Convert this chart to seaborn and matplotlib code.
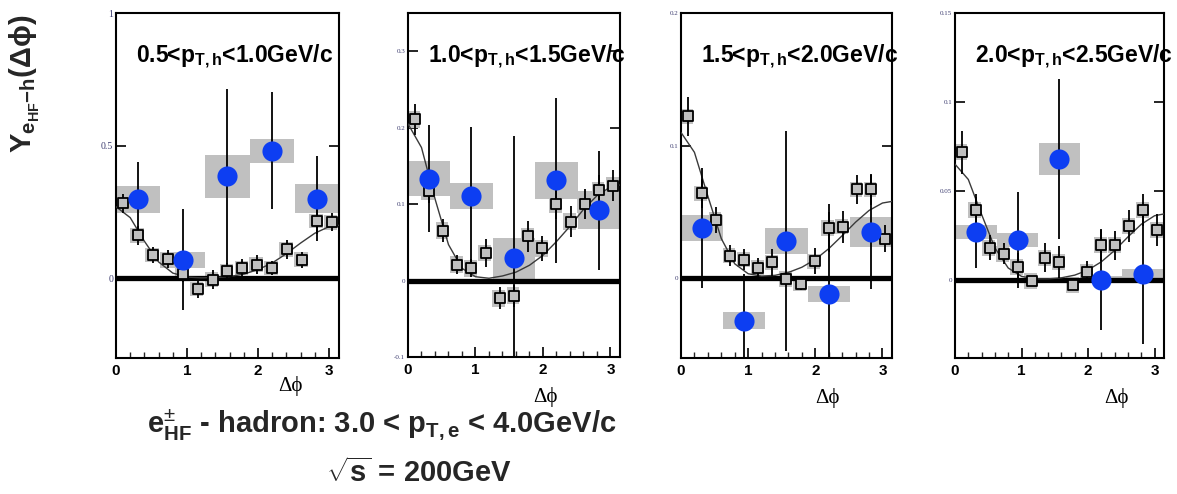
import numpy as np
import pandas as pd
import matplotlib
matplotlib.use("Agg")
import matplotlib.pyplot as plt
from matplotlib.ticker import MultipleLocator, FixedLocator
import seaborn as sns

# ---------------- data ----------------
panel_titles = [r"0.5<p$_{\mathbf{T,h}}$<1.0GeV/c",
                r"1.0<p$_{\mathbf{T,h}}$<1.5GeV/c",
                r"1.5<p$_{\mathbf{T,h}}$<2.0GeV/c",
                r"2.0<p$_{\mathbf{T,h}}$<2.5GeV/c"]

sq_dphi = [0.10, 0.31, 0.52, 0.73, 0.94, 1.15, 1.36, 1.57, 1.78, 1.99, 2.20, 2.41, 2.62, 2.83, 3.04]
circ_dphi = [0.31, 0.94, 1.57, 2.20, 2.83]
fit_dphi = [0.0, 0.2, 0.4, 0.6, 0.8, 1.0, 1.2, 1.4, 1.6, 1.8, 2.0, 2.2, 2.4, 2.6, 2.8, 3.0, 3.14]

# panel 1: 0.5-1.0
sq_y1 = [0.283, 0.162, 0.088, 0.073, 0.018, -0.040, -0.005, 0.028, 0.039, 0.052, 0.039, 0.109, 0.071, 0.216, 0.212]
sq_err1 = [0.035, 0.035, 0.03, 0.033, 0.03, 0.033, 0.035, 0.03, 0.035, 0.035, 0.028, 0.035, 0.03, 0.05, 0.035]
circ_y1 = [0.298, 0.071, 0.384, 0.481, 0.300]
circ_err1 = [0.14, 0.19, 0.33, 0.22, 0.16]
circ_sys1 = [0.05, 0.03, 0.08, 0.045, 0.054]
fit_y1 = [0.270, 0.229, 0.140, 0.062, 0.020, 0.005, 0.002, 0.003, 0.007, 0.016, 0.033, 0.058, 0.093, 0.133, 0.170, 0.195, 0.200]

# panel 2: 1.0-1.5
sq_y2 = [0.211, 0.117, 0.065, 0.021, 0.016, 0.036, -0.023, -0.020, 0.058, 0.042, 0.100, 0.077, 0.100, 0.118, 0.124]
sq_err2 = [0.02, 0.015, 0.015, 0.012, 0.012, 0.018, 0.014, 0.014, 0.02, 0.016, 0.02, 0.02, 0.02, 0.02, 0.02]
circ_y2 = [0.133, 0.111, 0.029, 0.131, 0.092]
circ_err2 = [0.07, 0.09, 0.16, 0.108, 0.078]
circ_sys2 = [0.023, 0.017, 0.027, 0.024, 0.025]
fit_y2 = [0.205, 0.174, 0.107, 0.047, 0.016, 0.005, 0.003, 0.006, 0.011, 0.020, 0.033, 0.051, 0.071, 0.093, 0.111, 0.1225, 0.125]

# panel 3: 1.5-2.0
sq_y3 = [0.122, 0.064, 0.044, 0.017, 0.014, 0.008, 0.012, -0.0005, -0.004, 0.013, 0.038, 0.039, 0.067, 0.067, 0.030]
sq_err3 = [0.015, 0.011, 0.01, 0.008, 0.008, 0.007, 0.01, 0.004, 0.005, 0.01, 0.018, 0.012, 0.011, 0.012, 0.01]
circ_y3 = [0.038, -0.032, 0.028, -0.012, 0.035]
circ_err3 = [0.045, 0.035, 0.083, 0.062, 0.043]
circ_sys3 = [0.0095, 0.0065, 0.01, 0.006, 0.011]
fit_y3 = [0.110, 0.095, 0.062, 0.030, 0.011, 0.0035, 0.0017, 0.0023, 0.0045, 0.0084, 0.0143, 0.0224, 0.0322, 0.0424, 0.0512, 0.0568, 0.058]

# panel 4: 2.0-2.5
sq_y4 = [0.0717, 0.039, 0.018, 0.0146, 0.007, -0.0007, 0.0124, 0.0099, -0.003, 0.0043, 0.0193, 0.0193, 0.030, 0.039, 0.028]
sq_err4 = [0.012, 0.009, 0.007, 0.006, 0.008, 0.002, 0.008, 0.009, 0.003, 0.006, 0.009, 0.008, 0.009, 0.009, 0.009]
circ_y4 = [0.0268, 0.0225, 0.068, 0.0, 0.003]
circ_err4 = [0.02, 0.027, 0.045, 0.028, 0.039]
circ_sys4 = [0.004, 0.004, 0.009, 0.002, 0.0028]
fit_y4 = [0.065, 0.0564, 0.0367, 0.0179, 0.0066, 0.0019, 0.0005, 0.0005, 0.0011, 0.0026, 0.0055, 0.0101, 0.0165, 0.0241, 0.0312, 0.036, 0.037]

sq_sys = [0.028, 0.011, 0.0057, 0.0045]

ylims = [(-0.3, 1.0), (-0.1, 0.35), (-0.06, 0.2), (-0.044, 0.15)]
yticks = [[0, 0.5, 1], [-0.1, 0, 0.1, 0.2, 0.3], [0, 0.1, 0.2], [0, 0.05, 0.1, 0.15]]
ytick_labels = [["0", "0.5", "1"], ["-0.1", "0", "0.1", "0.2", "0.3"],
                ["0", "0.1", "0.2"], ["0", "0.05", "0.1", "0.15"]]
xticks = [0, 1, 2, 3]
xtick_labels = ["0", "1", "2", "3"]

ylabel = r"Y$_{\mathbf{e_{HF}}\mathbf{{-}h}}$(Δϕ)"
bottom_line1 = r"e$^{\pm}_{\mathbf{HF}}$ - hadron: 3.0 < p$_{\mathbf{T,e}}$ < 4.0GeV/c"
bottom_line2 = r"$\sqrt{\mathbf{s}}$ = 200GeV"
xlabel = "Δϕ"

# ---------------- style ----------------
sns.set_theme(style="ticks")
plt.rcParams["font.family"] = ["Liberation Sans", "DejaVu Sans"]
plt.rcParams["mathtext.fontset"] = "custom"
plt.rcParams["mathtext.rm"] = "Liberation Sans"
plt.rcParams["mathtext.bf"] = "Liberation Sans:bold"
plt.rcParams["mathtext.it"] = "Liberation Sans:italic"
plt.rcParams["mathtext.sf"] = "Liberation Sans"

W, H = 1177, 494
fig = plt.figure(figsize=(W / 100, H / 100), dpi=100)
fig.patch.set_facecolor("white")

boxes_px = [(116, 339, 13, 358), (408, 620, 13, 357), (681, 892, 13, 358), (955, 1164, 13, 358)]
xlabel_pos = [(290, 386), (545, 397), (827, 398), (1116, 398)]

BLUE = "#0d3ef2"
GRAY = "#c0c0c0"

panels = [
    (sq_y1, sq_err1, circ_y1, circ_err1, circ_sys1, fit_y1),
    (sq_y2, sq_err2, circ_y2, circ_err2, circ_sys2, fit_y2),
    (sq_y3, sq_err3, circ_y3, circ_err3, circ_sys3, fit_y3),
    (sq_y4, sq_err4, circ_y4, circ_err4, circ_sys4, fit_y4),
]

for i, (sq_y, sq_err, c_y, c_err, c_sys, f_y) in enumerate(panels):
    l, r, t, b = boxes_px[i]
    ax = fig.add_axes([l / W, 1 - b / H, (r - l) / W, (b - t) / H])
    ax.set_facecolor("white")

    sq_df = pd.DataFrame({"dphi": sq_dphi, "Y": sq_y, "err": sq_err})
    c_df = pd.DataFrame({"dphi": circ_dphi, "Y": c_y, "err": c_err, "sys": c_sys})
    f_df = pd.DataFrame({"dphi": fit_dphi, "Y": f_y})

    # systematic boxes (circles)
    ax.bar(c_df["dphi"], 2 * c_df["sys"], bottom=c_df["Y"] - c_df["sys"],
           width=0.628, color=GRAY, linewidth=0, zorder=1)
    # systematic boxes (squares)
    ax.bar(sq_df["dphi"] - 0.015, 2 * sq_sys[i], bottom=sq_df["Y"] - sq_sys[i],
           width=0.19, color=GRAY, linewidth=0, zorder=1.5)

    # zero line
    ax.axhline(0, color="black", linewidth=3.8, zorder=2)

    # fit curve
    sns.lineplot(data=f_df, x="dphi", y="Y", ax=ax, color="#3a3a3a", linewidth=1.0,
                 estimator=None, sort=False, zorder=3)

    # error bars
    ax.errorbar(c_df["dphi"], c_df["Y"], yerr=c_df["err"], fmt="none",
                ecolor="black", elinewidth=1.3, capsize=0, zorder=4)
    ax.errorbar(sq_df["dphi"], sq_df["Y"], yerr=sq_df["err"], fmt="none",
                ecolor="black", elinewidth=1.3, capsize=0, zorder=4)

    # markers
    sns.scatterplot(data=sq_df, x="dphi", y="Y", ax=ax, marker="s", s=60,
                    color=GRAY, edgecolor="black", linewidth=1.3, zorder=5, legend=False)
    sns.scatterplot(data=c_df, x="dphi", y="Y", ax=ax, marker="o", s=210,
                    color=BLUE, edgecolor=BLUE, linewidth=0, zorder=6, legend=False)

    ax.set_xlim(0, 3.1416)
    ax.set_ylim(*ylims[i])
    ax.set_xlabel("")
    ax.set_ylabel("")

    ax.xaxis.set_major_locator(FixedLocator(xticks))
    ax.xaxis.set_minor_locator(MultipleLocator(0.2))
    ax.set_xticklabels(xtick_labels, fontweight="bold", fontsize=11,
                       family=["Liberation Sans", "DejaVu Sans"])
    ax.tick_params(axis="x", which="major", direction="in", length=7, width=1.2,
                   bottom=True, top=False, pad=4, colors="black")
    ax.tick_params(axis="x", which="minor", direction="in", length=4, width=1.0,
                   bottom=True, top=False)

    ax.yaxis.set_major_locator(FixedLocator(yticks[i]))
    ax.yaxis.set_minor_locator(FixedLocator([]))
    ysize = 7 if i == 0 else 5
    ax.set_yticklabels(ytick_labels[i], fontsize=ysize,
                       family=["Liberation Serif", "DejaVu Serif"])
    ax.tick_params(axis="y", which="major", direction="in", length=7, width=1.2,
                   left=True, right=True, pad=2, labelcolor="#3d3d70", color="black")

    for sp in ax.spines.values():
        sp.set_visible(True)
        sp.set_color("black")
        sp.set_linewidth(1.5)

    # panel title
    ax.text(20 / (r - l), 0.872, panel_titles[i], transform=ax.transAxes,
            ha="left", va="center", fontsize=16.5, fontweight="bold", color="black",
            zorder=10, clip_on=False)

    # x label
    xp, yp = xlabel_pos[i]
    fig.text(xp / W, 1 - yp / H, xlabel, ha="center", va="center", fontsize=15,
             family=["Liberation Serif", "DejaVu Serif"], color="black")

# y label
fig.text(25 / W, 1 - 84 / H, ylabel, rotation=90, ha="center", va="center",
         fontsize=21, fontweight="bold")

# bottom captions
fig.text(382 / W, 1 - 425 / H, bottom_line1, ha="center", va="center",
         fontsize=21, fontweight="bold")
fig.text(419 / W, 1 - 473 / H, bottom_line2, ha="center", va="center",
         fontsize=21, fontweight="bold")

fig.savefig("out.png", dpi=100, facecolor="white")
